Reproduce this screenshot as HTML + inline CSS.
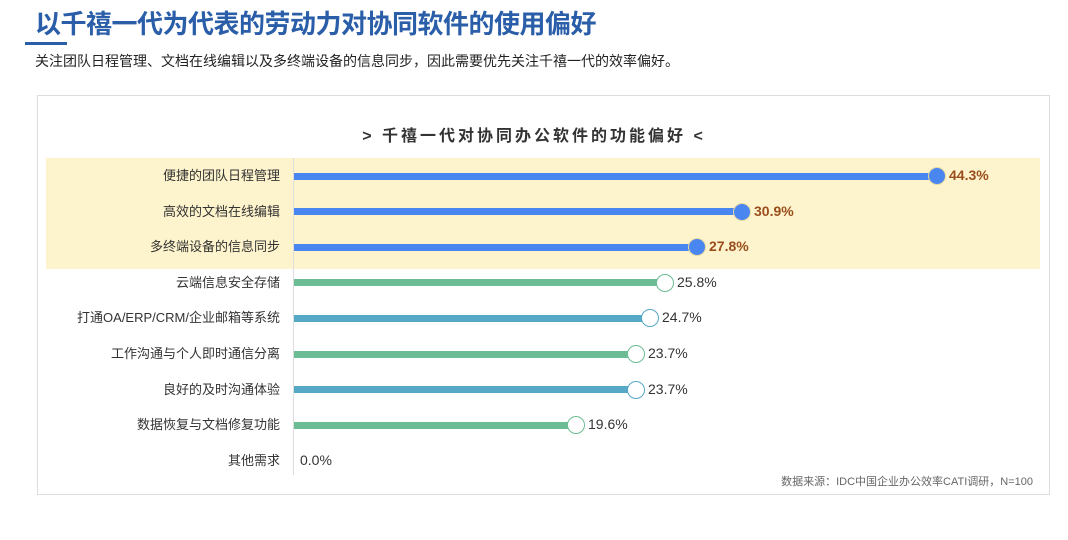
<!DOCTYPE html>
<html><head><meta charset="utf-8"><style>
body{margin:0;width:1068px;height:540px;background:#fff;font-family:"Liberation Sans","Noto Sans CJK SC",sans-serif;position:relative;overflow:hidden}
.t{position:absolute;left:35px;top:4px;font-size:26px;font-weight:bold;color:#2a5ea8;letter-spacing:-0.5px}
.ul{position:absolute;left:25px;top:42px;width:42px;height:3px;background:#2a5ea8}
.st{position:absolute;left:35px;top:51px;font-size:14px;color:#222}
.box{position:absolute;left:37px;top:95px;width:1011px;height:398px;border:1px solid #ddd}
.ct{position:absolute;left:0;width:1068px;top:122px;text-align:center;font-size:16px;font-weight:bold;color:#333;letter-spacing:3px}
.hl{position:absolute;left:46px;top:158px;width:994px;height:111px;background:#fdf3cc}
.ax{position:absolute;left:293px;top:158px;width:1px;height:317px;background:#ddd}
.lb{position:absolute;right:788px;font-size:13px;color:#333;white-space:nowrap}
.bar{position:absolute;left:294px;height:7px}
.dot{position:absolute;width:18px;height:18px;border-radius:50%;box-sizing:border-box}
.v{position:absolute;font-size:14px;color:#333}
.vb{font-weight:bold;color:#9a4e1c}
.src{position:absolute;right:35px;top:473px;font-size:11px;color:#666}
</style></head><body>
<div class="t">以千禧一代为代表的劳动力对协同软件的使用偏好</div>
<div class="ul"></div>
<div class="st">关注团队日程管理、文档在线编辑以及多终端设备的信息同步，因此需要优先关注千禧一代的效率偏好。</div>
<div class="box"></div>
<div class="ct">&gt; 千禧一代对协同办公软件的功能偏好 &lt;</div>
<div class="hl"></div>
<div class="ax"></div>
<div id="rows"></div>
<div class="src">数据来源：IDC中国企业办公效率CATI调研，N=100</div>
<script>
var d=[["便捷的团队日程管理",937,"44.3%",0],["高效的文档在线编辑",742,"30.9%",0],["多终端设备的信息同步",697,"27.8%",0],["云端信息安全存储",665,"25.8%",1],["打通OA/ERP/CRM/企业邮箱等系统",650,"24.7%",2],["工作沟通与个人即时通信分离",636,"23.7%",1],["良好的及时沟通体验",636,"23.7%",2],["数据恢复与文档修复功能",576,"19.6%",1],["其他需求",0,"0.0%",3]];
var cols=["#4a86f0","#6cbd93","#55a8c6"];
var h="";
d.forEach(function(r,i){var y=176+i*35.6;
h+='<div class="lb" style="top:'+(y-11)+'px">'+r[0]+'</div>';
if(r[3]<3){var c=cols[r[3]];
h+='<div class="bar" style="top:'+(y-3.5)+'px;width:'+(r[1]-294)+'px;background:'+c+'"></div>';
h+='<div class="dot" style="left:'+(r[1]-9)+'px;top:'+(y-9)+'px;'+(r[3]==0?'background:'+c+';border:1px solid #e8d9a0':'background:#fff;border:1.5px solid '+c)+'"></div>';
h+='<div class="v'+(r[3]==0?' vb':'')+'" style="left:'+(r[1]+12)+'px;top:'+(y-9)+'px">'+r[2]+'</div>';}
else h+='<div class="v" style="left:300px;top:'+(y-9)+'px">'+r[2]+'</div>';});
document.getElementById("rows").innerHTML=h;
</script>
</body></html>
